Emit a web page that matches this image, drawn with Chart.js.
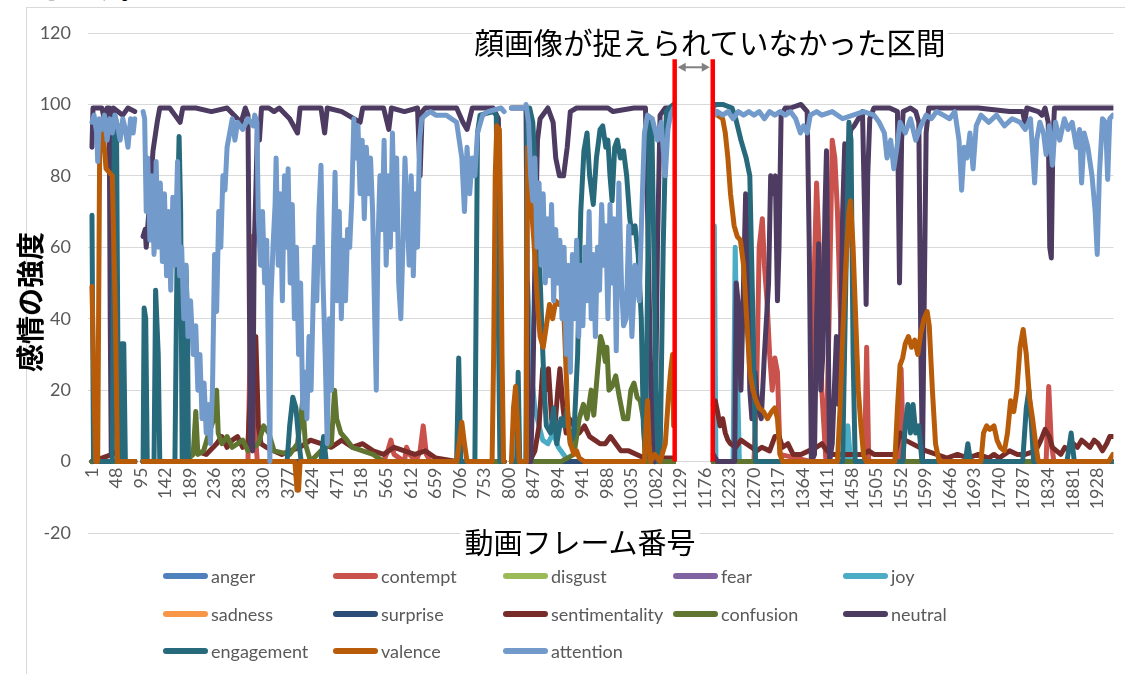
<!DOCTYPE html>
<html><head><meta charset="utf-8">
<script src="https://cdn.jsdelivr.net/npm/chart.js@4.4.1/dist/chart.umd.min.js"></script>
<style>
html,body{margin:0;padding:0;background:#fff;}
body{width:1125px;height:674px;overflow:hidden;position:relative;}
#frame{position:absolute;left:26px;top:7px;width:1200px;height:800px;border-left:1px solid #D9D9D9;border-top:1px solid #D9D9D9;}
#c{position:absolute;left:0;top:0;}
.jp{position:absolute;white-space:nowrap;font-family:"Noto Sans CJK JP",sans-serif;color:#000;line-height:1;}
#legend .item{position:absolute;display:flex;align-items:center;height:20px;font-family:Lato,"Liberation Sans",sans-serif;font-size:18px;color:#595959;white-space:nowrap;}
#legend .sw{display:inline-block;width:45px;height:6px;border-radius:3px;margin-right:3px;}
</style></head>
<body>
<div id="frame"></div>
<div class="jp" style="left:38px;top:-27px;font-size:28px;">します。</div>
<canvas id="c" width="1125" height="674"></canvas>
<div class="jp" id="gapTitle" style="left:710px;top:42px;font-size:29.5px;transform:translate(-50%,-50%);background:#fff;padding:2px 2px;">顔画像が捉えられていなかった区間</div>
<div class="jp" id="xTitle" style="left:580px;top:541px;font-size:29px;transform:translate(-50%,-50%);background:#fff;padding:2px 4px;">動画フレーム番号</div>
<div class="jp" id="yTitle" style="left:29px;top:302px;font-size:28px;font-weight:bold;transform:translate(-50%,-50%) rotate(-90deg);">感情の強度</div>
<div id="legend"></div>
<script>
// ---- categories / ticks ----
const X_TICKS = [1,48,95,142,189,236,283,330,377,424,471,518,565,612,659,706,753,800,847,894,941,988,1035,1082,1129,1176,1223,1270,1317,1364,1411,1458,1505,1552,1599,1646,1693,1740,1787,1834,1881,1928];
const Y_TICK_STEP = 20;
// frames where no data was recorded (face not captured)
const missingFrames = [91, 798, 830, 1150];
// interval marked by red lines (frame numbers)
const noFaceInterval = [1118, 1191];

// ---- series values: [frame, value] ----
const anger = [[1,0],[83,0],[99,0],[791,0],[805,0],[827,0],[833,0],[1116,0],[1192,0],[1958,0]];
const contempt = [[1,0],[83,0],[99,0],[300,0],[304,30],[306,63],[309,45],[313,10],[318,0],[560,0],[568,3],[574,6],[580,2],[600,0],[604,4],[610,2],[622,0],[630,3],[636,10],[642,2],[650,0],[791,0],[805,0],[827,0],[833,0],[1116,0],[1192,0],[1270,0],[1275,20],[1280,60],[1286,68],[1290,55],[1295,45],[1300,30],[1305,20],[1310,29],[1315,25],[1320,2],[1380,0],[1385,50],[1390,78],[1395,60],[1400,20],[1408,0],[1414,40],[1420,90],[1425,85],[1430,70],[1436,40],[1440,10],[1445,0],[1482,0],[1486,32],[1490,0],[1548,0],[1552,26],[1557,0],[1830,0],[1835,21],[1840,5],[1845,0],[1958,0]];
const disgust = [[1,0],[83,0],[99,0],[791,0],[805,0],[827,0],[833,0],[1116,0],[1192,0],[1958,0]];
const fear = [[1,0],[83,0],[99,0],[791,0],[805,0],[827,0],[833,0],[1116,0],[1192,0],[1958,0]];
const joy = [[1,0],[83,0],[99,0],[791,0],[805,0],[827,0],[833,0],[836,50],[840,35],[845,22],[850,15],[858,10],[865,6],[875,5],[885,8],[895,4],[905,2],[915,0],[1116,0],[1192,0],[1194,66],[1197,0],[1230,0],[1234,60],[1238,26],[1242,0],[1445,0],[1450,10],[1455,0],[1958,0]];
const sadness = [[1,0],[83,0],[99,0],[791,0],[805,0],[827,0],[833,0],[1116,0],[1192,0],[1958,0]];
const surprise = [[1,0],[83,0],[99,0],[791,0],[805,0],[827,0],[833,0],[1116,0],[1192,0],[1958,0]];
const sentimentality = [[1,0],[40,2],[50,3],[60,0],[83,0],[99,0],[180,0],[200,3],[220,2],[240,5],[250,7],[260,4],[270,6],[280,7],[290,4],[300,5],[305,20],[310,33],[315,35],[320,10],[325,5],[335,4],[350,3],[365,2],[380,3],[400,4],[420,6],[440,5],[460,4],[480,6],[500,4],[520,5],[540,3],[560,2],[580,4],[600,3],[620,2],[640,3],[660,1],[700,0],[791,0],[805,0],[827,0],[833,0],[840,0],[850,3],[858,10],[865,26],[870,20],[876,26],[882,12],[888,9],[894,20],[898,26],[904,15],[910,8],[916,12],[925,10],[935,8],[945,10],[955,7],[965,6],[975,5],[985,5],[995,7],[1005,5],[1015,3],[1030,3],[1045,2],[1060,1],[1116,1],[1192,16],[1196,17],[1200,14],[1205,10],[1210,12],[1215,8],[1220,6],[1225,5],[1235,4],[1245,6],[1255,5],[1265,4],[1275,3],[1285,4],[1300,3],[1310,7],[1318,7],[1325,4],[1335,5],[1345,2],[1360,2],[1375,3],[1390,4],[1400,5],[1410,3],[1420,2],[1480,2],[1490,3],[1500,2],[1540,2],[1550,8],[1560,6],[1600,3],[1640,1],[1660,2],[1680,1],[1700,2],[1720,1],[1730,2],[1740,1],[1760,3],[1775,2],[1790,2],[1810,3],[1820,6],[1828,9],[1836,7],[1842,4],[1850,3],[1858,2],[1866,4],[1874,3],[1882,5],[1890,4],[1898,6],[1906,5],[1914,4],[1922,6],[1930,5],[1938,3],[1946,5],[1952,7],[1958,7]];
const confusion = [[1,0],[83,0],[99,0],[180,0],[195,2],[200,14],[204,2],[215,3],[225,8],[235,12],[240,20],[243,8],[250,5],[260,7],[270,4],[290,6],[300,3],[320,5],[330,10],[340,8],[350,3],[380,2],[395,5],[405,17],[410,5],[420,0],[440,3],[460,5],[466,20],[470,12],[478,8],[490,6],[500,4],[520,3],[540,2],[560,0],[791,0],[805,0],[827,0],[833,0],[900,0],[925,2],[935,12],[943,16],[950,12],[958,20],[963,13],[970,25],[976,35],[980,33],[985,28],[988,32],[992,20],[998,21],[1005,24],[1012,18],[1020,12],[1028,12],[1034,20],[1040,22],[1046,18],[1052,17],[1058,12],[1062,0],[1116,0],[1192,0],[1958,0]];
const neutral = [[1,88],[3,99],[20,99],[26,95],[30,99],[34,99],[36,40],[38,2],[40,30],[42,99],[60,97],[70,99],[83,98],[99,63],[103,65],[105,60],[110,70],[118,87],[126,95],[131,99],[150,99],[160,97],[170,95],[175,99],[200,99],[230,98],[260,99],[280,96],[287,95],[295,99],[300,97],[303,40],[305,5],[309,3],[312,60],[315,75],[318,92],[322,90],[326,99],[340,99],[350,98],[360,99],[380,96],[395,92],[400,99],[440,99],[447,92],[452,99],[480,98],[515,95],[520,99],[560,99],[570,93],[575,99],[600,98],[625,99],[630,80],[634,98],[640,99],[700,99],[712,95],[720,93],[730,99],[770,99],[780,96],[785,50],[787,0],[791,0],[805,99],[827,99],[833,99],[835,60],[837,0],[842,0],[846,20],[850,55],[855,90],[860,96],[875,99],[885,95],[890,85],[897,80],[905,80],[912,88],[918,98],[930,99],[990,99],[1000,98],[1040,99],[1062,99],[1066,70],[1070,40],[1075,2],[1080,0],[1085,60],[1090,97],[1100,99],[1116,99],[1192,2],[1200,0],[1233,0],[1236,50],[1240,44],[1245,20],[1250,50],[1254,75],[1258,60],[1262,20],[1266,12],[1272,25],[1278,15],[1284,12],[1290,30],[1298,50],[1302,80],[1306,75],[1311,80],[1315,45],[1318,60],[1322,97],[1330,99],[1340,99],[1360,100],[1372,98],[1376,60],[1380,0],[1386,2],[1390,40],[1394,61],[1398,20],[1402,30],[1406,70],[1409,87],[1412,40],[1415,0],[1420,5],[1424,20],[1428,35],[1432,16],[1436,30],[1440,70],[1444,89],[1448,60],[1452,90],[1456,93],[1462,94],[1470,96],[1478,98],[1482,70],[1485,44],[1488,80],[1492,96],[1500,99],[1530,99],[1545,98],[1549,50],[1553,90],[1556,98],[1570,99],[1580,98],[1586,95],[1590,30],[1593,0],[1596,40],[1600,92],[1605,99],[1650,99],[1700,99],[1760,98],[1785,98],[1789,95],[1793,99],[1815,98],[1822,97],[1828,99],[1834,95],[1837,60],[1840,57],[1843,90],[1846,99],[1900,99],[1958,99]];
const engagement = [[1,69],[4,0],[40,0],[44,97],[48,95],[52,0],[56,0],[58,33],[62,33],[65,0],[83,0],[99,0],[101,43],[104,40],[107,0],[120,0],[123,48],[128,30],[131,0],[160,0],[165,70],[168,91],[171,70],[174,0],[178,0],[181,55],[184,40],[186,0],[375,0],[380,10],[386,18],[392,15],[398,5],[402,0],[440,0],[445,7],[450,0],[700,0],[704,29],[708,0],[735,0],[740,92],[745,97],[770,98],[776,97],[780,40],[783,0],[791,0],[805,0],[815,0],[818,25],[821,0],[827,0],[833,0],[835,99],[840,99],[846,95],[852,78],[858,60],[864,35],[868,20],[872,10],[880,8],[886,15],[892,5],[900,12],[906,10],[912,15],[918,5],[925,8],[932,30],[938,70],[944,87],[950,92],[955,80],[962,72],[968,85],[975,93],[980,94],[986,88],[990,90],[994,80],[998,73],[1003,88],[1008,90],[1014,85],[1020,87],[1026,80],[1032,68],[1036,64],[1042,66],[1048,58],[1054,40],[1058,10],[1062,2],[1066,50],[1070,95],[1074,96],[1078,60],[1082,20],[1086,0],[1090,0],[1096,60],[1102,98],[1108,99],[1116,100],[1192,99],[1196,100],[1210,100],[1228,99],[1235,96],[1245,90],[1255,85],[1262,80],[1268,40],[1273,0],[1440,0],[1446,50],[1452,95],[1456,90],[1460,30],[1464,0],[1555,0],[1560,10],[1565,16],[1570,8],[1575,16],[1580,8],[1586,10],[1592,0],[1675,0],[1680,5],[1685,0],[1785,0],[1792,15],[1797,20],[1802,10],[1806,0],[1870,0],[1878,8],[1884,0],[1958,0]];
const valence = [[1,49],[5,20],[8,0],[12,0],[16,93],[22,93],[28,82],[40,80],[46,40],[50,0],[83,0],[99,0],[390,0],[394,-8],[397,-8],[400,0],[700,0],[705,5],[710,11],[715,5],[720,0],[768,0],[771,30],[774,80],[777,94],[782,93],[785,60],[787,30],[790,0],[791,0],[805,0],[809,15],[813,21],[817,10],[820,0],[827,0],[833,0],[834,40],[836,88],[840,78],[844,70],[848,62],[852,52],[856,42],[860,35],[866,32],[872,38],[878,44],[884,40],[890,45],[896,44],[902,45],[906,40],[910,25],[914,10],[918,5],[925,2],[930,3],[935,1],[945,0],[1060,0],[1063,10],[1066,17],[1069,5],[1072,0],[1080,2],[1090,0],[1100,5],[1106,18],[1110,25],[1114,30],[1116,10],[1192,98],[1196,98],[1200,97],[1210,96],[1215,92],[1220,85],[1225,75],[1232,66],[1238,63],[1244,62],[1250,55],[1256,40],[1262,25],[1268,20],[1274,17],[1280,15],[1288,14],[1296,12],[1304,14],[1310,15],[1315,12],[1320,2],[1325,0],[1430,0],[1435,15],[1440,35],[1446,55],[1452,70],[1455,73],[1460,60],[1465,40],[1470,20],[1475,10],[1480,2],[1485,0],[1540,0],[1545,15],[1550,27],[1555,29],[1560,33],[1566,35],[1572,32],[1578,34],[1584,30],[1590,36],[1596,40],[1602,42],[1606,38],[1612,20],[1618,5],[1625,0],[1705,0],[1710,8],[1716,10],[1722,9],[1730,10],[1736,6],[1742,4],[1750,3],[1756,8],[1762,17],[1768,14],[1774,20],[1780,32],[1786,37],[1792,30],[1798,18],[1804,12],[1810,5],[1815,0],[1950,0],[1958,2]];
const attention = [[1,95],[5,97],[10,92],[12,84],[15,96],[20,93],[25,97],[30,90],[35,96],[40,92],[45,97],[50,94],[55,90],[60,96],[65,93],[70,88],[75,96],[80,92],[83,96],[99,98],[102,96],[105,70],[108,85],[112,62],[116,80],[120,58],[124,84],[128,60],[132,78],[136,56],[140,75],[144,52],[148,70],[152,48],[156,74],[160,55],[165,84],[169,52],[173,60],[177,40],[181,55],[185,35],[190,45],[195,30],[200,38],[204,20],[208,30],[212,12],[216,22],[220,8],[224,16],[228,5],[232,20],[236,58],[240,42],[244,70],[248,60],[252,80],[256,76],[260,88],[265,92],[270,96],[275,90],[280,95],[290,93],[300,96],[310,94],[313,97],[317,95],[320,68],[324,55],[328,70],[332,50],[336,62],[340,20],[342,0],[344,45],[348,60],[352,72],[354,85],[358,55],[362,75],[366,45],[370,80],[374,60],[377,82],[381,50],[385,72],[389,40],[393,60],[397,30],[401,50],[405,15],[409,25],[413,12],[417,35],[421,20],[425,45],[428,60],[432,45],[436,70],[440,83],[444,50],[448,30],[452,5],[456,40],[460,20],[464,60],[467,81],[471,45],[475,70],[479,40],[483,62],[487,45],[491,65],[495,60],[499,73],[503,96],[507,85],[511,94],[515,75],[519,90],[523,68],[527,88],[531,75],[535,85],[539,70],[543,40],[546,20],[549,60],[553,80],[557,65],[561,90],[565,55],[569,80],[573,60],[577,92],[581,65],[585,85],[589,50],[593,40],[597,60],[601,85],[605,70],[609,55],[613,80],[617,52],[621,75],[625,60],[629,90],[633,96],[640,97],[650,98],[660,97],[680,97],[700,95],[710,85],[715,70],[720,88],[725,75],[730,85],[735,80],[740,92],[750,97],[760,98],[785,99],[791,98],[805,99],[827,99],[833,100],[838,95],[842,80],[846,73],[850,85],[854,60],[858,78],[862,55],[866,75],[870,50],[874,68],[878,52],[882,72],[886,45],[890,65],[894,50],[898,62],[902,40],[906,60],[910,30],[914,55],[918,25],[922,58],[926,40],[930,62],[934,35],[938,55],[942,38],[946,60],[950,45],[954,70],[958,40],[962,58],[966,35],[970,60],[974,48],[978,72],[982,55],[986,66],[990,40],[994,72],[998,50],[1002,68],[1006,31],[1011,78],[1016,50],[1020,38],[1025,40],[1030,66],[1036,35],[1042,55],[1050,45],[1055,70],[1060,92],[1066,97],[1075,96],[1085,90],[1092,95],[1100,80],[1105,93],[1110,97],[1116,99],[1192,99],[1195,97],[1200,98],[1210,97],[1220,98],[1230,96],[1240,98],[1250,97],[1260,98],[1270,97],[1280,98],[1290,96],[1300,98],[1310,97],[1320,98],[1330,97],[1340,98],[1350,96],[1359,92],[1365,94],[1372,92],[1378,97],[1390,98],[1400,97],[1420,98],[1440,96],[1460,97],[1480,98],[1500,97],[1510,95],[1520,92],[1525,85],[1532,90],[1538,82],[1544,88],[1550,95],[1560,92],[1570,96],[1580,90],[1590,94],[1600,97],[1610,96],[1620,98],[1633,97],[1645,96],[1655,98],[1663,90],[1668,76],[1673,88],[1678,85],[1684,92],[1690,82],[1696,94],[1705,97],[1720,95],[1735,97],[1750,94],[1765,96],[1780,95],[1790,93],[1800,96],[1805,85],[1808,78],[1812,90],[1818,95],[1825,92],[1830,86],[1836,94],[1842,83],[1848,95],[1856,90],[1865,96],[1872,93],[1880,95],[1888,88],[1894,93],[1898,78],[1903,92],[1910,88],[1918,80],[1924,70],[1928,58],[1932,80],[1938,96],[1944,95],[1948,79],[1952,96],[1958,97]];

const SERIES_NAMES = ['anger','contempt','disgust','fear','joy','sadness','surprise','sentimentality','confusion','neutral','engagement','valence','attention'];
const SERIES_VALUES = [anger,contempt,disgust,fear,joy,sadness,surprise,sentimentality,confusion,neutral,engagement,valence,attention];
const SERIES_COLORS = ['#4F81BD','#C9524D','#9BBB59','#8064A2','#4BACC6','#F79646','#2C4D75','#772C2A','#5F7530','#4D3B62','#276A7C','#B85C0A','#729ACA'];

function toPoints(arr){
  const pts = arr.map(p => ({x:p[0], y:p[1]}));
  missingFrames.forEach(f => pts.push({x:f, y:null}));
  pts.sort((a,b) => a.x - b.x);
  return pts;
}

const datasets = SERIES_NAMES.map((name,i) => ({
  label: name,
  data: toPoints(SERIES_VALUES[i]),
  borderColor: SERIES_COLORS[i],
  backgroundColor: SERIES_COLORS[i],
  borderWidth: 5,
  pointRadius: 0,
  tension: 0,
  borderJoinStyle: 'round',
  borderCapStyle: 'round',
  spanGaps: false,
  order: SERIES_NAMES.length - 1 - i
}));

const annotationPlugin = {
  id: 'noFace',
  afterDatasetsDraw(chart){
    const {ctx, scales:{x,y}} = chart;
    const top = y.getPixelForValue(113.3);
    const bottom = y.getPixelForValue(0);
    const x1 = x.getPixelForValue(noFaceInterval[0]);
    const x2 = x.getPixelForValue(noFaceInterval[1]);
    ctx.save();
    ctx.strokeStyle = '#FF0000';
    ctx.lineWidth = 4.5;
    [x1,x2].forEach(px => { ctx.beginPath(); ctx.moveTo(px, top); ctx.lineTo(px, bottom); ctx.stroke(); });
    // double arrow
    const ay = y.getPixelForValue(110.4);
    const a1 = x1 + 3, a2 = x2 - 3;
    ctx.strokeStyle = '#808080'; ctx.fillStyle = '#808080'; ctx.lineWidth = 2;
    ctx.beginPath(); ctx.moveTo(a1 + 6, ay); ctx.lineTo(a2 - 6, ay); ctx.stroke();
    ctx.beginPath(); ctx.moveTo(a1, ay); ctx.lineTo(a1 + 8, ay - 4.5); ctx.lineTo(a1 + 8, ay + 4.5); ctx.closePath(); ctx.fill();
    ctx.beginPath(); ctx.moveTo(a2, ay); ctx.lineTo(a2 - 8, ay - 4.5); ctx.lineTo(a2 - 8, ay + 4.5); ctx.closePath(); ctx.fill();
    ctx.restore();
  }
};

const chart = new Chart(document.getElementById('c'), {
  type: 'line',
  data: { datasets },
  options: {
    responsive: false,
    animation: false,
    devicePixelRatio: 1,
    layout: { padding: { top: 33, bottom: 141, left: 0, right: 10 } },
    plugins: { legend: { display: false }, tooltip: { enabled: false } },
    scales: {
      x: {
        type: 'linear',
        position: { y: 0 },
        min: -6.6,
        max: 1959,
        afterBuildTicks: s => { s.ticks = X_TICKS.map(v => ({ value: v })); },
        ticks: { autoSkip: false, minRotation: 90, maxRotation: 90, padding: 6, color: '#595959', font: { family: 'Lato', size: 18 }, callback: v => String(v) },
        grid: { display: false, drawTicks: false },
        border: { display: true, color: '#D9D9D9', width: 1 }
      },
      y: {
        min: -20, max: 120,
        afterFit: s => { s.width = 88; },
        ticks: { stepSize: Y_TICK_STEP, padding: 17, color: '#595959', font: { family: 'Lato', size: 18 } },
        grid: { color: '#D9D9D9', lineWidth: 1, drawTicks: false },
        border: { display: false }
      }
    }
  },
  plugins: [annotationPlugin]
});

// HTML legend built from the chart datasets
const legend = document.getElementById('legend');
chart.data.datasets.forEach((ds, i) => {
  const col = i % 5, row = Math.floor(i / 5);
  const item = document.createElement('div');
  item.className = 'item';
  item.style.left = (163 + col * 170) + 'px';
  item.style.top = (566 + row * 37.5) + 'px';
  const sw = document.createElement('span');
  sw.className = 'sw';
  sw.style.background = ds.borderColor;
  item.appendChild(sw);
  item.appendChild(document.createTextNode(ds.label));
  legend.appendChild(item);
});
</script>
</body></html>
